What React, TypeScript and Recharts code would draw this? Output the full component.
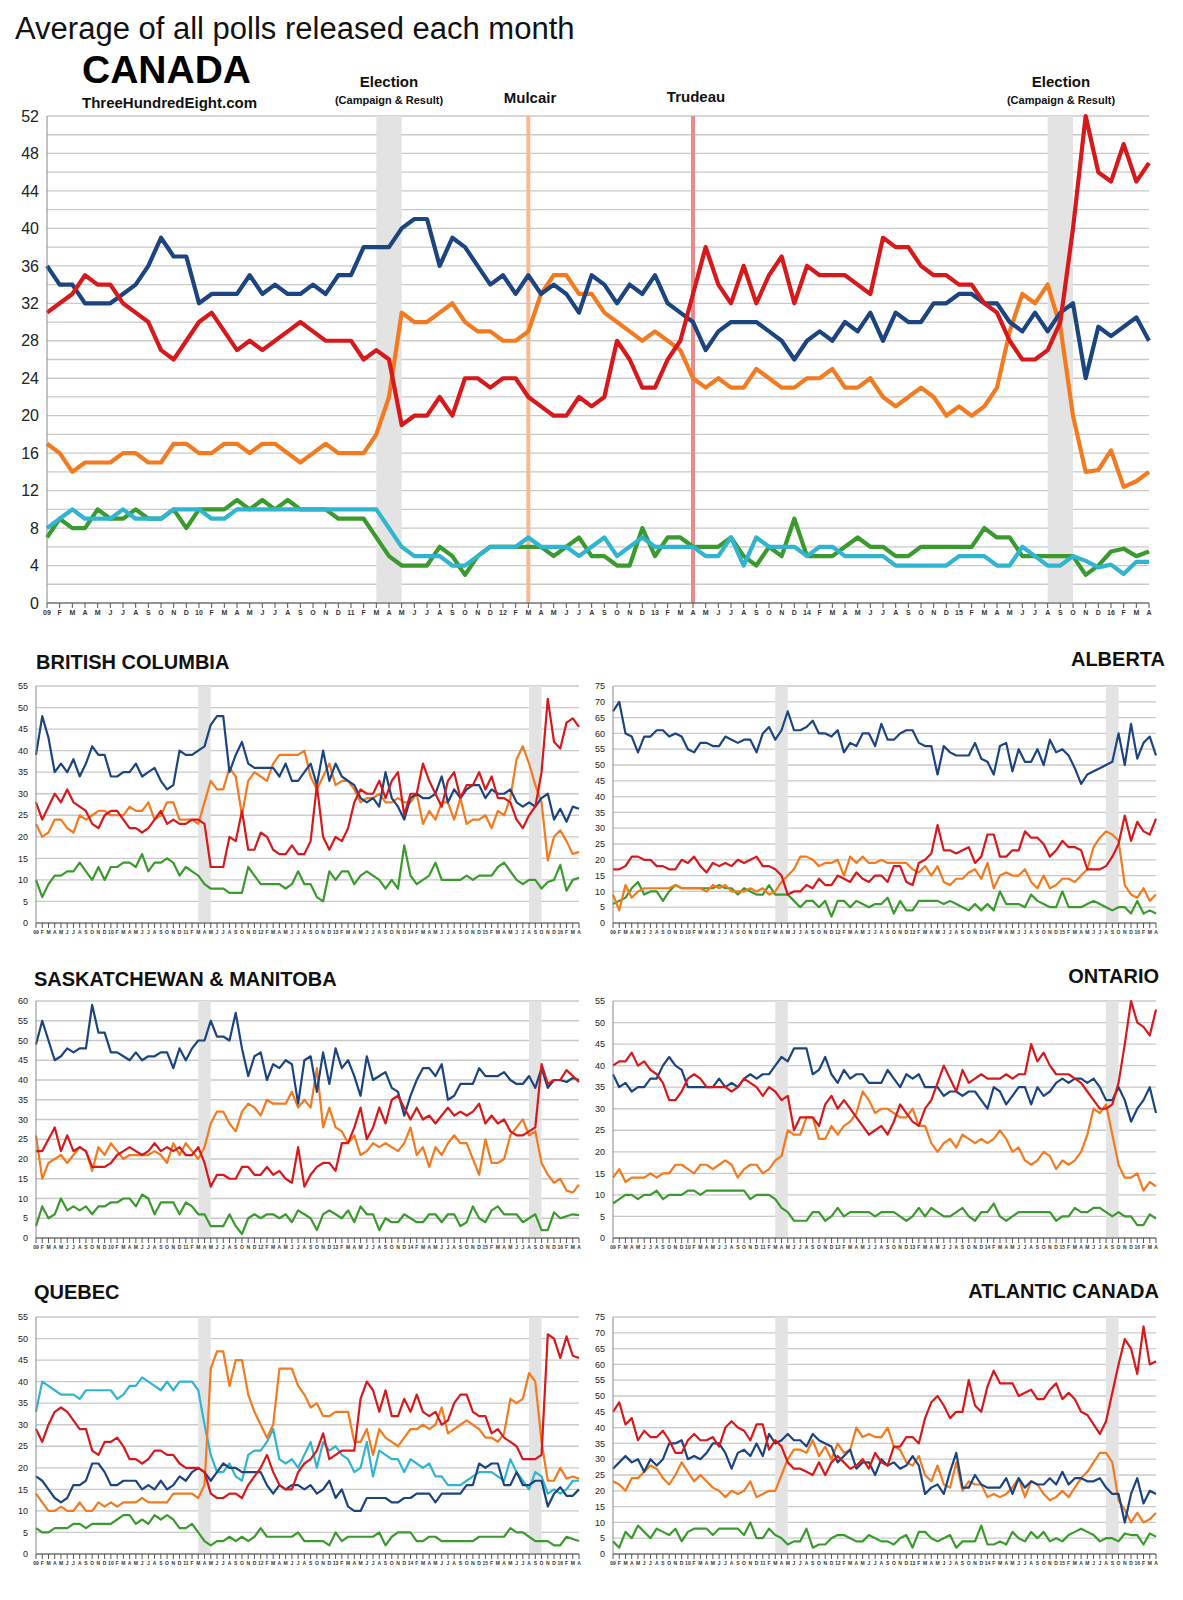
import React from "react";
import { LineChart, Line, XAxis, YAxis, CartesianGrid, ReferenceArea, ReferenceLine } from "recharts";

const yearLabels = ["09", "10", "11", "12", "13", "14", "15", "16"];
const monthLetters = ["F", "M", "A", "M", "J", "J", "A", "S", "O", "N", "D"];
const monthLabels: string[] = [];
yearLabels.forEach((y) => { monthLabels.push(y); monthLetters.forEach((l) => monthLabels.push(l)); });
const months = monthLabels.slice(0, 88);

const BLUE = "#1b4480", RED = "#d7191c", ORANGE = "#f47a20", GREEN = "#3b9a2e", CYAN = "#31b4d0";

// CANADA
const caCon = [36,34,34,32,32,32,33,34,36,39,37,37,32,33,33,33,35,33,34,33,33,34,33,35,
35,38,38,38,40,41,41,36,39,38,36,34,35,33,35,33,34,33,31,35,34,32,34,
33,35,32,31,30,27,29,30,30,30,29,28,26,28,29,28,30,29,31,28,31,
30,30,32,32,33,33,32,32,30,29,31,29,31,32,24,29.5,28.5,29.5,30.5,28];
const caLib = [31,32,33,35,34,34,32,31,30,27,26,28,30,31,29,27,28,27,28,29,30,29,28,28,
28,26,27,26,19,20,20,22,20,24,24,23,24,24,22,21,20,20,22,21,22,28,26,
23,23,26,28,33,38,34,32,36,32,35,37,32,36,35,35,35,34,33,39,38,
38,36,35,35,34,34,32,31,28,26,26,27,30,40,52,46,45,49,45,47];
const caNdp = [17,16,14,15,15,15,16,16,15,15,17,17,16,16,17,17,16,17,17,16,15,16,17,16,
16,16,18,22,31,30,30,31,32,30,29,29,28,28,29,33,35,35,33,33,31,30,29,
28,29,28,27,24,23,24,23,23,25,24,23,23,24,24,25,23,23,24,22,21,
22,23,22,20,21,20,21,23,29,33,32,34,29.5,20,14,14.2,16.3,12.4,13,14];
const caBq = [8,9,10,9,9,9,10,9,9,9,10,10,10,9,9,10,10,10,10,10,10,10,10,10,
10,10,10,8,6,5,5,5,4,4,5,6,6,6,7,6,6,6,5,6,7,5,6,
7,6,6,6,6,5,5,7,4,7,6,6,6,5,6,6,5,5,5,5,4,
4,4,4,4,5,5,5,4,4,6,5,4,4,5,4.5,3.8,4.1,3.1,4.4,4.4];
const caGrn = [7,9,8,8,10,9,9,10,9,9,10,8,10,10,10,11,10,11,10,11,10,10,10,9,
9,9,7,5,4,4,4,6,5,3,5,6,6,6,6,6,5,6,7,5,5,4,4,
8,5,7,7,6,6,6,7,5,4,6,5,9,5,5,5,6,7,6,6,5,
5,6,6,6,6,6,8,7,7,5,5,5,5,5,3,4,5.5,5.8,5,5.5];

// BRITISH COLUMBIA
const bcCon = [39,48,43,35,37,35,38,34,37,41,39,39,34,34,35,35,37,34,35,36,33,31,32,40,39,39,40,41,46,48,48,35,39,42,37,36,36,36,36,34,37,33,33,35,37,32,40,33,37,34,33,32,29,28,29,27,35,29,27,24,29,30,29,29,30,34,28,31,29,31,32,32,29,31,30,30,31,28,27,28,27,29,30,24,26.5,23.5,27,26.5];
const bcLib = [28,24,27,30,28,31,28,27,26,23,22,25,26,26,24,22,22,21,22,24,26,23,24,23,23,24,24,23,13,13,13,20,19,26,17,17,21,20,17,16,16,18,16,16,19,32,20,17,20,19,22,28,31,30,30,33,29,33,35,25,30,30,37,33,30,27,33,35,29,32,32,35,31,34,29,29,28,24,22,25,27,35,52,42,40.5,46.5,47.5,45.5];
const bcNdp = [23,20,21,24,24,22,21,25,24,25,26,26,25,25,25,27,26,26,28,24,25,28,28,24,24,24,23,28,33,31,31,36,34,25,33,35,34,33,37,39,39,39,39,40,34,31,34,37,32,33,33,31,28,29,29,30,28,28,29,28,28,30,23,26,24,28,28,24,29,23,24,24,25,22,26,25,29,38,41,37,32,28,14.5,20,21.5,19,16,16.5];
const bcGrn = [10,6,9,11,11,12,12,14,12,10,13,10,13,13,14,14,13,16,12,14,14,15,14,11,13,12,11,9,8,8,8,7,7,7,13,11,9,9,9,9,8,9,12,9,9,6,5,12,10,12,12,9,11,12,11,10,8,10,8,18,11,9,10,11,14,10,10,10,10,11,10,11,11,11,13,14,12,10,9,10,10,8,9.5,10,13.5,7.5,10,10.5];

// ALBERTA
const abCon = [67,70,60,59,54,59,59,61,61,59,60,59,55,54,57,57,56,56,59,58,57,58,58,54,60,62,58,61,67,61,61,62,64,60,60,59,61,54,57,56,60,60,56,63,58,58,60,61,61,57,56,56,47,56,54,53,53,53,57,52,51,47,56,57,48,55,51,51,55,50,58,54,55,53,49,44,47,48,49,50,51,60,50,63,52,57,59,53];
const abLib = [17,17,18,21,21,20,20,18,18,17,17,20,19,21,18,16,19,18,19,18,20,19,20,21,18,18,17,15,9,10,10,12,11,14,12,12,15,14,13,16,14,13,15,15,13,18,18,13,12,19,20,22,31,23,23,22,23,24,19,21,28,28,21,21,23,23,29,27,27,25,21,23,26,24,24,23,17,17,17,18,21,25,34,26,32,29,28,33];
const abNdp = [9,4,12,8,10,11,11,11,11,11,12,11,11,11,11,10,12,11,12,10,10,10,11,10,11,9,10,13,15,17,21,21,20,18,19,19,20,15,21,19,21,19,19,20,19,19,19,19,17,16,18,15,18,13,12,14,14,16,17,14,19,11,15,16,15,15,17,13,11,15,11,12,14,14,13,15,17,24,27,29,28,26,12,9,8,11,7,9];
const abGrn = [6,7,8,11,13,9,10,10,7,10,12,11,11,11,11,11,11,12,11,11,9,11,10,9,9,12,9,9,9,7,5,7,7,5,7,2,7,7,5,7,6,5,6,6,8,3,7,4,4,7,7,7,7,6,7,6,5,4,6,4,6,4,10,6,6,6,5,9,7,6,5,5,10,5,5,5,6,7,6,5,4,5,5,3,7,3,4,3];

// SASKATCHEWAN & MANITOBA
const skCon = [49,55,50,45,46,48,47,48,48,59,52,52,47,47,46,45,47,45,46,46,47,47,43,48,45,48,50,50,55,51,51,50,57,48,41,46,47,40,44,43,45,44,34,45,46,37,47,39,48,43,45,41,36,46,40,41,42,38,37,31,36,40,43,43,41,44,35,36,39,39,39,43,41,41,41,42,40,39,39,41,38,43,38,40,40,39.5,40.5,40];
const skLib = [22,22,25,28,22,26,22,23,22,18,18,18,19,21,22,23,22,21,22,24,22,23,22,23,21,21,23,19,13,16,16,15,15,18,18,16,16,18,16,17,15,14,23,13,16,18,19,19,17,24,24,28,33,25,28,33,29,35,36,33,30,33,30,31,29,31,33,31,32,31,32,34,29,31,29,30,27,26,26,27,28,44,39,40,40,42.5,41,39.5];
const skNdp = [26,15,19,20,21,19,21,23,22,17,23,21,24,22,20,21,21,21,21,22,21,19,24,21,24,22,20,23,29,32,32,29,27,32,34,33,31,35,34,34,34,37,33,35,33,43,28,33,28,27,24,26,21,22,24,23,24,23,22,24,28,21,23,18,23,21,24,26,24,24,20,16,25,19,19,20,26,28,30,26,27,19,16,14,15,12,11.5,13.5];
const skGrn = [3,8,5,6,10,7,8,7,8,6,8,8,9,9,10,10,8,11,10,6,9,9,9,6,9,8,6,6,3,3,3,6,3,1,5,6,5,6,6,5,6,4,7,6,5,2,6,7,6,5,7,4,8,6,6,2,5,4,4,6,5,4,4,6,6,4,6,6,3,4,8,5,4,7,8,6,6,6,4,5,6,2,2,6.5,5,5.5,6,5.8];

// ONTARIO
const onCon = [38,35,36,34,35,35,37,37,40,42,40,39,35,35,35,35,35,37,35,36,35,37,38,37,38,38,40,42,41,44,44,44,38,39,42,38,36,39,37,38,38,36,36,36,39,37,35,38,37,38,35,35,35,33,34,34,33,34,34,32,30,35,34,31,33,35,35,31,35,33,34,36,37,36,37,37,36,37,35,32,32,35,32,27,30,32,35,29];
const onLib = [40,41,41,43,40,41,39,38,36,32,32,34,37,38,37,35,35,35,35,34,35,37,36,35,33,35,34,32,33,25,28,28,28,26,31,33,30,32,30,28,26,24,25,26,24,27,31,29,27,26,30,32,36,40,37,34,39,36,37,38,37,37,37,38,37,38,38,45,41,43,40,38,38,38,37,36,34,32,30,30,31,36,45,55,50,49,47,53];
const onNdp = [14,16,13,14,14,14,15,14,15,15,17,17,16,15,17,17,16,17,18,17,14,16,17,17,15,16,18,19,25,24,24,28,28,23,23,26,24,26,27,29,34,32,29,30,30,29,28,28,30,26,26,22,20,22,23,21,24,23,22,23,22,23,25,23,20,21,18,17,18,20,19,16,18,17,18,20,24,30,29,31,24,17,14,14,15,11,13,12];
const onGrn = [8,9,10,10,9,10,10,11,9,10,10,10,11,11,10,11,11,11,11,11,11,11,9,10,10,10,9,7,6,4,4,4,6,6,4,5,7,5,6,6,6,6,5,6,6,6,5,4,5,7,5,7,6,5,5,6,7,5,4,6,6,8,5,4,5,6,6,6,6,6,6,4,5,5,7,6,6,7,7,6,5,6,5,5,3,3,5.5,4.5];

// QUEBEC
const qcBq = [33,40,39,38,37,37,37,36,38,38,38,38,38,36,37,39,39,41,40,39,38,40,38,40,40,40,38,30,23,19,19,21,18,17,23,24,24,26,29,22,21,22,20,23,26,20,26,24,25,23,22,19,20,26,18,24,23,22,22,19,22,21,20,21,18,18,16,16,16,17,18,19,19,19,18,17,22,19,17,15,19,18,14,15,14,15,17,17];
const qcCon = [18,17,15,13,12,13,16,16,17,21,21,19,16,16,17,17,17,15,16,15,17,15,16,18,17,19,20,19,17,19,21,20,20,19,19,19,19,16,14,16,15,16,16,15,16,14,15,17,13,15,11,10,10,13,13,13,13,12,12,13,13,14,14,14,12,14,14,14,14,16,16,21,20,21,21,16,16,19,16,16,17,17,11,14,15.5,13.5,13.5,15];
const qcLib = [29,26,30,33,34,33,31,29,29,24,23,26,26,27,25,22,22,21,22,24,24,23,23,21,20,20,20,19,14,13,13,14,14,13,16,18,20,23,19,16,15,15,19,21,22,24,28,22,23,24,24,24,36,40,38,33,38,32,32,36,33,37,33,32,33,30,31,35,37,37,33,32,32,28,29,27,26,25,22,22,22,23,51,50,45.5,50.5,46,45.5];
const qcNdp = [14,12,10,10,11,10,10,12,10,10,12,11,12,11,12,12,12,13,12,12,12,12,14,14,14,14,13,16,43,47,47,39,45,45,37,33,30,27,30,43,43,43,39,37,34,35,32,32,33,33,33,26,26,29,23,29,27,26,25,27,29,29,30,29,30,34,28,29,30,31,30,29,27,27,26,28,36,35,36,42,40,26,17,17,20,17.5,18,17.5];
const qcGrn = [6,5,5,6,6,6,7,7,6,7,7,7,7,8,9,9,7,8,7,9,8,9,8,6,6,7,5,3,2,3,3,4,3,4,3,4,6,4,4,4,4,4,5,3,3,3,3,2,5,3,4,4,4,4,4,5,2,4,5,5,5,3,3,4,4,3,3,3,3,3,3,4,4,4,4,4,6,5,5,4,3,3,3,2,2,4,3.5,3];

// ATLANTIC CANADA
const atLib = [45,48,41,43,36,39,37,37,39,36,32,32,36,38,36,36,37,34,40,42,40,39,36,41,41,33,36,34,29,27,27,26,25,29,25,29,31,29,27,28,30,27,32,29,28,34,34,37,37,35,43,48,50,47,43,45,45,55,47,45,53,58,54,54,54,50,51,52,49,49,52,54,49,51,49,45,44,41,38,42,51,60,68,65,57,72,60,61];
const atCon = [27,29,31,29,30,26,30,28,30,35,35,36,30,31,30,32,35,35,32,27,32,33,31,35,31,38,35,36,38,36,36,34,38,36,35,34,29,31,33,27,29,29,25,30,28,29,27,28,31,28,19,21,22,19,26,32,21,21,25,22,21,21,21,24,19,24,21,23,22,22,24,22,26,22,24,24,23,23,24,21,19,19,10,19,24,16,20,19];
const atNdp = [23,22,20,24,24,26,28,27,24,22,25,29,26,23,25,23,21,20,18,20,19,20,23,18,19,20,20,25,30,33,33,32,36,31,34,30,35,32,33,40,37,38,37,37,40,34,33,29,28,31,25,23,28,22,21,29,20,23,22,22,18,19,18,19,21,24,18,23,22,19,17,18,20,18,21,24,26,29,32,32,29,17,14,10,13,10,11,13];
const atGrn = [4,2,7,5,9,7,5,8,7,6,8,4,7,8,8,8,6,8,8,8,8,6,10,5,5,8,6,5,3,4,4,8,2,3,3,5,6,6,5,4,4,6,5,4,4,3,5,6,2,7,7,5,4,5,6,2,4,4,4,9,3,3,4,3,7,5,4,7,5,7,4,5,4,6,7,8,7,6,4,5,5,4,6.5,6,6,3,6.5,5.5];

type S = { key: string; vals: number[]; color: string };

const FONT = "'Liberation Sans Narrow', 'Liberation Sans', Arial, sans-serif";

function buildRows(series: S[]) {
  return months.map((m, i) => {
    const r: any = { i };
    series.forEach((s) => { r[s.key] = s.vals[i]; });
    return r;
  });
}

const allTicks = months.map((_, i) => i);

function Chart(props: {
  left: number; top: number; plotW: number; plotH: number; max: number; labelStep: number;
  gridStep: number; series: S[]; strokeW: number; yFont: number; xFont: number;
  shades: [number, number][]; vlines?: { x: number; color: string }[];
}) {
  const { left, top, plotW, plotH, max, labelStep, gridStep, series, strokeW, yFont, xFont, shades, vlines } = props;
  const yw = 34;
  const mt = 12;
  const xh = 16;
  const rows = buildRows(series);
  const yTicks: number[] = [];
  for (let v = 0; v <= max; v += gridStep) yTicks.push(v);
  return (
    <div style={{ position: "absolute", left: left - yw, top: top - mt }}>
      <LineChart width={yw + plotW + 4} height={mt + plotH + xh} data={rows} margin={{ top: mt, right: 4, bottom: 0, left: 0 }}>
        <CartesianGrid vertical={false} stroke="#c9c9c9" strokeWidth={1.3} />
        {shades.map(([a, b], k) => (
          <ReferenceArea key={k} x1={a} x2={b} fill="#e3e3e3" fillOpacity={1} stroke="none" ifOverflow="hidden" />
        ))}
        {(vlines || []).map((v, k) => (
          <ReferenceLine key={"v" + k} x={v.x} stroke={v.color} strokeWidth={4} />
        ))}
        <XAxis dataKey="i" type="number" domain={[0, 87]} ticks={allTicks} interval={0}
          tickFormatter={(i: number) => months[i]} height={xh} tickSize={5}
          tick={{ fontSize: xFont, fill: "#333", fontFamily: FONT, fontWeight: 700 }}
          stroke="#555" />
        <YAxis domain={[0, max]} ticks={yTicks} interval={0} width={yw} axisLine={{ stroke: "#888" }} tickLine={false}
          tickFormatter={(v: number) => (v % labelStep === 0 ? String(v) : "")}
          tick={{ fontSize: yFont, fill: "#222", fontFamily: FONT }} />
        {series.map((s) => (
          <Line key={s.key} dataKey={s.key} stroke={s.color} strokeWidth={strokeW} dot={false}
            isAnimationActive={false} strokeLinejoin="round" />
        ))}
      </LineChart>
    </div>
  );
}

const title = (text: string, x: number, y: number, align: "left" | "right", size = 20) => (
  <div style={{
    position: "absolute", top: y - size * 0.6, fontFamily: FONT, fontSize: size, fontWeight: 700, color: "#111",
    ...(align === "left" ? { left: x } : { right: 1183 - x }), whiteSpace: "nowrap",
  }}>{text}</div>
);

const centered = (text: string, x: number, y: number, size: number, weight = 700) => (
  <div style={{ position: "absolute", left: x - 150, width: 300, top: y - size * 0.6, textAlign: "center",
    fontFamily: FONT, fontSize: size, fontWeight: weight, color: "#111" }}>{text}</div>
);

export default function App() {
  const main: S[] = [
    { key: "grn", vals: caGrn, color: GREEN },
    { key: "bq", vals: caBq, color: CYAN },
    { key: "ndp", vals: caNdp, color: ORANGE },
    { key: "con", vals: caCon, color: BLUE },
    { key: "lib", vals: caLib, color: RED },
  ];
  const four = (con: number[], lib: number[], ndp: number[], grn: number[]): S[] => [
    { key: "grn", vals: grn, color: GREEN },
    { key: "ndp", vals: ndp, color: ORANGE },
    { key: "con", vals: con, color: BLUE },
    { key: "lib", vals: lib, color: RED },
  ];
  const sh: [number, number][] = [[26, 28], [79, 81]];
  const small = { plotW: 543, plotH: 237, strokeW: 2.2, yFont: 9, xFont: 5, shades: sh };
  return (
    <div style={{ position: "absolute", left: 0, top: 0, width: 1183, height: 1600, background: "#fff", overflow: "hidden" }}>
      <div style={{ position: "absolute", left: 15, top: 11, fontFamily: FONT, fontSize: 31, color: "#111", whiteSpace: "nowrap" }}>
        Average of all polls released each month
      </div>
      <div style={{ position: "absolute", left: 82, top: 48, fontFamily: FONT, fontSize: 39, fontWeight: 700, color: "#000" }}>CANADA</div>
      <div style={{ position: "absolute", left: 82, top: 94, fontFamily: FONT, fontSize: 15, fontWeight: 700, color: "#111" }}>ThreeHundredEight.com</div>
      {centered("Election", 389, 82, 15)}
      {centered("(Campaign & Result)", 389, 101, 11)}
      {centered("Mulcair", 530, 98, 15)}
      {centered("Trudeau", 696, 97, 15)}
      {centered("Election", 1061, 82, 15)}
      {centered("(Campaign & Result)", 1061, 101, 11)}
      <Chart left={47} top={116} plotW={1102} plotH={487} max={52} labelStep={4} gridStep={2}
        series={main} strokeW={4.2} yFont={16} xFont={7} shades={sh}
        vlines={[{ x: 38, color: "#f7b994" }, { x: 51, color: "#e98a8c" }]} />

      {title("BRITISH COLUMBIA", 36, 663, "left")}
      <Chart left={36} top={686} max={55} labelStep={5} gridStep={5} series={four(bcCon, bcLib, bcNdp, bcGrn)} {...small} />
      {title("ALBERTA", 1165, 660, "right")}
      <Chart left={613} top={686} max={75} labelStep={5} gridStep={5} series={four(abCon, abLib, abNdp, abGrn)} {...small} />

      {title("SASKATCHEWAN & MANITOBA", 34, 980, "left")}
      <Chart left={36} top={1001} max={60} labelStep={5} gridStep={5} series={four(skCon, skLib, skNdp, skGrn)} {...small} />
      {title("ONTARIO", 1159, 977, "right")}
      <Chart left={613} top={1001} max={55} labelStep={5} gridStep={5} series={four(onCon, onLib, onNdp, onGrn)} {...small} />

      {title("QUEBEC", 34, 1293, "left")}
      <Chart left={36} top={1317} max={55} labelStep={5} gridStep={5}
        series={[{ key: "grn", vals: qcGrn, color: GREEN }, { key: "bq", vals: qcBq, color: CYAN },
          { key: "ndp", vals: qcNdp, color: ORANGE }, { key: "con", vals: qcCon, color: BLUE }, { key: "lib", vals: qcLib, color: RED }]}
        {...small} />
      {title("ATLANTIC CANADA", 1159, 1292, "right")}
      <Chart left={613} top={1317} max={75} labelStep={5} gridStep={5} series={four(atCon, atLib, atNdp, atGrn)} {...small} />
    </div>
  );
}
